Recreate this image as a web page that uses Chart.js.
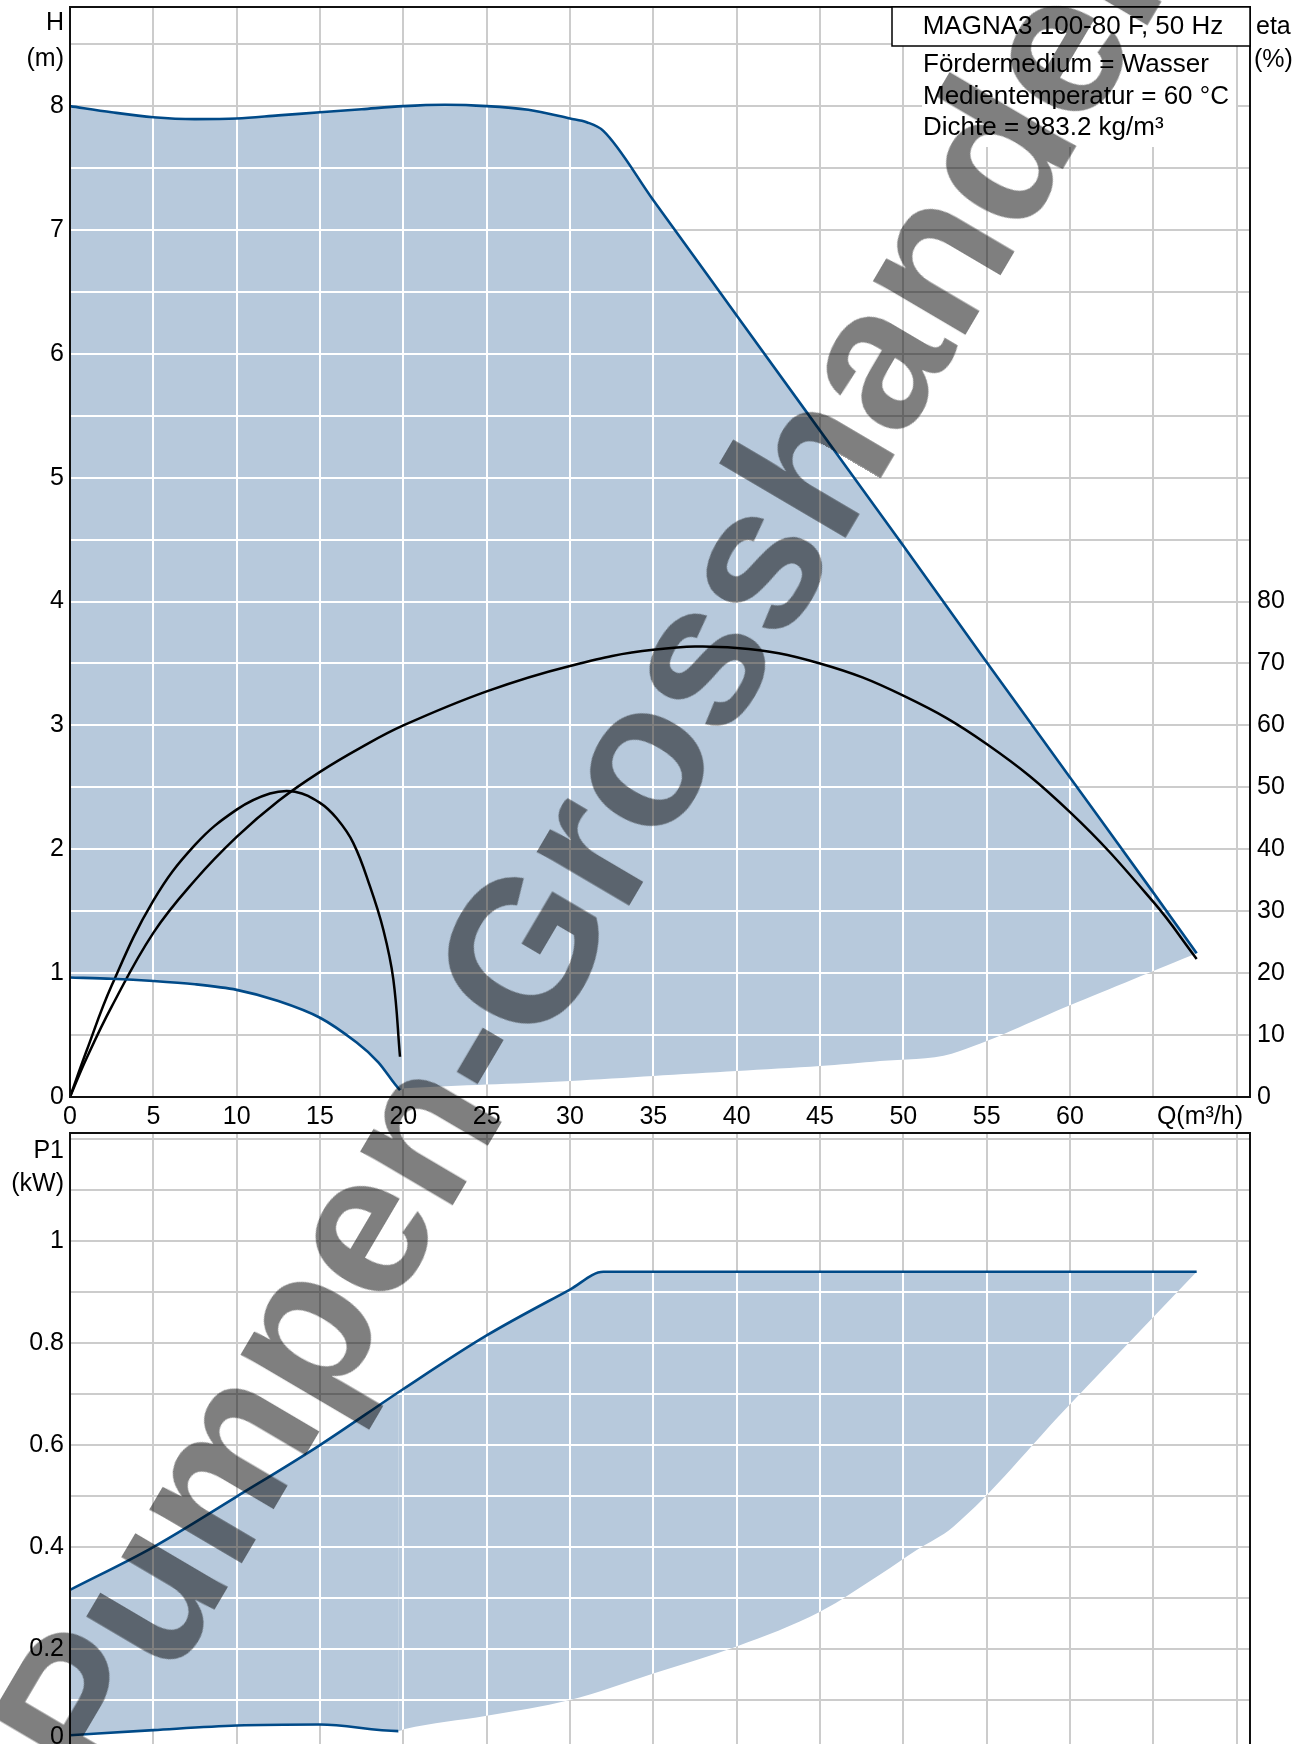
<!DOCTYPE html>
<html>
<head>
<meta charset="utf-8">
<script src="https://cdn.jsdelivr.net/npm/chart.js@4.4.0/dist/chart.umd.min.js"></script>
<style>
    html, body { margin: 0; padding: 0; overflow: hidden; background: #fff; width: 1309px; height: 1744px; }
    #topChart { position: absolute; left: 0; top: 0; }
    #bottomChart { position: absolute; left: 0; top: 1125px; }
    #wm {
        position: absolute; left: 576px; top: 858px;
        transform: translate(-50%, -50%) rotate(-59.5deg);
        font: bold 202px "Liberation Sans", Arial, sans-serif;
        color: rgba(0, 0, 0, 0.5); white-space: nowrap; line-height: 1; pointer-events: none;
    }
</style>
</head>
<body>
<canvas id="topChart" width="1309" height="1133"></canvas>
<canvas id="bottomChart" width="1309" height="640"></canvas>
<div id="wm">Pumpen-Grosshandel</div>
<script>
// H(Q) at max speed
const hMaxQ = [0, 2.5, 5, 7.5, 10, 12.5, 15, 17.5, 20, 22.5, 25, 27.5, 30, 31, 32, 35, 40, 45, 50, 55, 60, 65, 67.6];
const hMaxH = [8.00, 7.95, 7.91, 7.895, 7.90, 7.925, 7.95, 7.975, 8.00, 8.01, 8.00, 7.97, 7.90, 7.87, 7.80, 7.24, 6.31, 5.38, 4.45, 3.51, 2.58, 1.65, 1.16];

// lower edge of the operating area (min curve up to 20, then bottom edge)
const hLowQ = [0, 2.5, 5, 7.5, 10, 12.5, 15, 17.2, 18.5, 19.8, 20.1, 25, 30, 35, 40, 45, 48.6, 52.9, 60, 67.6];
const hLowH = [0.965, 0.955, 0.937, 0.91, 0.865, 0.775, 0.64, 0.44, 0.28, 0.056, 0.07, 0.10, 0.13, 0.17, 0.21, 0.25, 0.29, 0.35, 0.74, 1.16];

// efficiency curves (%)
const etaMaxQ = [0, 1, 2.5, 5, 7.5, 10, 12.5, 15, 17.5, 20, 25, 30, 35, 40, 45, 50, 55, 60, 65, 67.6];
const etaMaxV = [0, 6.3, 14.6, 26.5, 35, 42, 47.8, 52.5, 56.5, 60, 65.5, 69.6, 72.2, 72.5, 70.0, 64.8, 57.0, 46.0, 31.5, 22.3];
const etaMinQ = [0, 1, 2.5, 5, 7.5, 10, 12, 13.5, 15, 16, 17, 18, 18.8, 19.4, 19.8];
const etaMinV = [0, 7.5, 18, 31.7, 40.7, 46.4, 49, 49.3, 47.5, 45, 41, 34, 27, 19, 6.5];

// P1(Q)
const pMaxQ = [0, 5, 10, 15, 20, 25, 30, 32, 40, 50, 60, 67.6];
const pMaxP = [0.316, 0.40, 0.499, 0.60, 0.71, 0.815, 0.905, 0.94, 0.94, 0.94, 0.94, 0.94];
const pLowQ = [0, 5, 10, 15, 19.7, 20.1, 25, 30, 35, 40, 45, 48.7, 50.8, 53, 60, 67.6];
const pLowP = [0.031, 0.041, 0.05, 0.052, 0.039, 0.043, 0.069, 0.10, 0.152, 0.205, 0.273, 0.348, 0.394, 0.44, 0.68, 0.94];

const infoTitle = 'MAGNA3 100-80 F, 50 Hz';
const infoLines = ['Fördermedium = Wasser', 'Medientemperatur = 60 °C', 'Dichte = 983.2 kg/m³'];

const FONT = '"Liberation Sans", Arial, sans-serif';
const lineBlue = '#004a88';
const areaBlue = '#b7c9dc';
const gridGrey = '#cccccc';
const minEnd = 19.7;

function pts(xs, ys) {
    return xs.map((x, i) => ({ x: x, y: ys[i] }));
}

function bez(ctx, prev, cur, flip) {
    if (prev.cp1x === undefined || cur.cp1x === undefined) {
        ctx.lineTo(cur.x, cur.y);
        return;
    }
    ctx.bezierCurveTo(
        flip ? prev.cp1x : prev.cp2x, flip ? prev.cp1y : prev.cp2y,
        flip ? cur.cp2x : cur.cp1x, flip ? cur.cp2y : cur.cp1y,
        cur.x, cur.y);
}

function align(p) {
    return Math.round(p - 1) + 1;
}

// white grid lines inside the filled area, like the original
const whiteGrid = {
    id: 'whiteGrid',
    beforeDatasetsDraw(chart, args, opts) {
        const up = chart.getDatasetMeta(opts.upper).data;
        const lo = chart.getDatasetMeta(opts.lower).data;
        const ctx = chart.ctx;
        const a = chart.chartArea;
        ctx.save();
        ctx.beginPath();
        ctx.moveTo(up[0].x, up[0].y);
        for (let i = 1; i < up.length; i++) bez(ctx, up[i - 1], up[i], false);
        ctx.lineTo(lo[lo.length - 1].x, lo[lo.length - 1].y);
        for (let i = lo.length - 2; i >= 0; i--) bez(ctx, lo[i + 1], lo[i], true);
        ctx.closePath();
        ctx.clip();
        ctx.strokeStyle = '#ffffff';
        ctx.lineWidth = 2;
        ctx.beginPath();
        const xs = chart.scales.x;
        xs.ticks.forEach(t => {
            const x = align(xs.getPixelForValue(t.value));
            ctx.moveTo(x, a.top);
            ctx.lineTo(x, a.bottom);
        });
        const ys = chart.scales.y;
        ys.ticks.forEach(t => {
            const y = align(ys.getPixelForValue(t.value));
            ctx.moveTo(a.left, y);
            ctx.lineTo(a.right, y);
        });
        ctx.stroke();
        ctx.restore();
    }
};

// frame and free text
const frameText = {
    id: 'frameText',
    afterDraw(chart, args, opts) {
        const ctx = chart.ctx;
        const a = chart.chartArea;
        ctx.save();
        ctx.strokeStyle = '#111';
        ctx.lineWidth = 2;
        ctx.strokeRect(a.left, a.top, a.right - a.left, opts.bottomOpen ? 2000 : a.bottom - a.top);
        ctx.fillStyle = '#000';
        ctx.font = '25px ' + FONT;
        ctx.textBaseline = 'middle';
        (opts.labels || []).forEach(l => {
            ctx.textAlign = l.align;
            ctx.fillText(l.text, l.x, l.y);
        });
        if (opts.info) {
            const bx = a.right - 358;
            ctx.fillStyle = '#fff';
            ctx.fillRect(bx + 30, a.top + 39, 314, 101);
            ctx.fillRect(bx, a.top, 358, 39);
            ctx.strokeStyle = '#000';
            ctx.lineWidth = 1.5;
            ctx.strokeRect(bx, a.top, 358, 39);
            ctx.fillStyle = '#000';
            ctx.font = '26px ' + FONT;
            ctx.textAlign = 'center';
            ctx.fillText(infoTitle, bx + 181, a.top + 20);
            ctx.textAlign = 'left';
            infoLines.forEach((t, i) => ctx.fillText(t, bx + 31, a.top + 58 + i * 31.5));
        }
        ctx.restore();
    }
};

const tickFont = { family: FONT, size: 25 };

// fixed axis sizes, no extra label padding
function fit(w, h) {
    return scale => {
        if (w !== null) scale.width = w;
        if (h !== null) scale.height = h;
        scale.paddingTop = 0;
        scale.paddingBottom = 0;
        scale.paddingLeft = 0;
        scale.paddingRight = 0;
    };
}

const topChart = new Chart(document.getElementById('topChart'), {
    type: 'scatter',
    data: {
        datasets: [
            {
                data: pts(hMaxQ, hMaxH), showLine: true, borderColor: lineBlue, borderWidth: 2.6,
                backgroundColor: areaBlue, fill: 1, pointRadius: 0, cubicInterpolationMode: 'monotone', yAxisID: 'y'
            },
            {
                data: pts(hLowQ, hLowH), showLine: true, borderColor: lineBlue, borderWidth: 2.6, fill: false,
                pointRadius: 0, tension: 0.3, yAxisID: 'y',
                segment: { borderColor: c => c.p0.parsed.x >= minEnd ? 'rgba(0,0,0,0)' : undefined }
            },
            {
                data: pts(etaMaxQ, etaMaxV), showLine: true, borderColor: '#000', borderWidth: 2.5, fill: false,
                pointRadius: 0, tension: 0.4, yAxisID: 'eta'
            },
            {
                data: pts(etaMinQ, etaMinV), showLine: true, borderColor: '#000', borderWidth: 2.5, fill: false,
                pointRadius: 0, tension: 0.4, yAxisID: 'eta'
            }
        ]
    },
    options: {
        responsive: false,
        animation: false,
        layout: { padding: { top: 7, left: 0, right: 0, bottom: 0 } },
        plugins: {
            legend: { display: false },
            tooltip: { enabled: false },
            filler: { drawTime: 'beforeDatasetsDraw' },
            whiteGrid: { upper: 0, lower: 1 },
            frameText: {
                info: true,
                labels: [
                    { text: 'H', x: 64, y: 23, align: 'right' },
                    { text: '(m)', x: 64, y: 59, align: 'right' },
                    { text: 'eta', x: 1256, y: 27, align: 'left' },
                    { text: '(%)', x: 1254, y: 60, align: 'left' },
                    { text: 'Q(m³/h)', x: 1243, y: 1117, align: 'right' }
                ]
            }
        },
        scales: {
            x: {
                type: 'linear', min: 0, max: 70.8,
                ticks: { stepSize: 5, includeBounds: false, font: tickFont, color: '#000', padding: 5, maxRotation: 0,
                    autoSkip: false, callback: v => v <= 60 ? String(v) : '' },
                grid: { color: gridGrey, lineWidth: 2, drawTicks: false },
                border: { display: false },
                afterFit: fit(null, 36)
            },
            y: {
                position: 'left', min: 0, max: 8.8,
                ticks: { stepSize: 0.5, includeBounds: false, font: tickFont, color: '#000', padding: 6, autoSkip: false,
                    callback: v => Number.isInteger(v) ? String(v) : '' },
                grid: { color: gridGrey, lineWidth: 2, drawTicks: false },
                border: { display: false },
                afterFit: fit(70, null)
            },
            eta: {
                position: 'right', min: 0, max: 176,
                ticks: { stepSize: 10, includeBounds: false, font: tickFont, color: '#000', padding: 7, autoSkip: false,
                    callback: v => v <= 80 ? String(v) : '' },
                grid: { display: false, drawTicks: false },
                border: { display: false },
                afterFit: fit(59, null)
            }
        }
    },
    plugins: [whiteGrid, frameText]
});

const bottomChart = new Chart(document.getElementById('bottomChart'), {
    type: 'scatter',
    data: {
        datasets: [
            {
                data: pts(pMaxQ, pMaxP), showLine: true, borderColor: lineBlue, borderWidth: 2.6,
                backgroundColor: areaBlue, fill: 1, pointRadius: 0, cubicInterpolationMode: 'monotone'
            },
            {
                data: pts(pLowQ, pLowP), showLine: true, borderColor: lineBlue, borderWidth: 2.6, fill: false,
                pointRadius: 0, cubicInterpolationMode: 'monotone',
                segment: { borderColor: c => c.p0.parsed.x >= minEnd ? 'rgba(0,0,0,0)' : undefined }
            }
        ]
    },
    options: {
        responsive: false,
        animation: false,
        layout: { padding: { top: 8, left: 0, right: 59, bottom: 0 } },
        plugins: {
            legend: { display: false },
            tooltip: { enabled: false },
            filler: { drawTime: 'beforeDatasetsDraw' },
            whiteGrid: { upper: 0, lower: 1 },
            frameText: {
                bottomOpen: true,
                labels: [
                    { text: 'P1', x: 64, y: 26, align: 'right' },
                    { text: '(kW)', x: 64, y: 59, align: 'right' },
                    { text: '0', x: 64, y: 612, align: 'right' }
                ]
            }
        },
        scales: {
            x: {
                type: 'linear', min: 0, max: 70.8,
                ticks: { display: false, stepSize: 5, includeBounds: false },
                grid: { color: gridGrey, lineWidth: 2, drawTicks: false },
                border: { display: false },
                afterFit: fit(null, 14)
            },
            y: {
                position: 'left', min: 0, max: 1.212,
                ticks: { stepSize: 0.1, includeBounds: false, font: tickFont, color: '#000', padding: 6, autoSkip: false,
                    callback: v => {
                        const r = Math.round(v * 10);
                        if (r % 2 !== 0 || r <= 0 || r > 10) return '';
                        return r === 10 ? '1' : (r / 10).toFixed(1);
                    } },
                grid: { color: gridGrey, lineWidth: 2, drawTicks: false },
                border: { display: false },
                afterFit: fit(70, null)
            }
        }
    },
    plugins: [whiteGrid, frameText]
});
</script>
</body>
</html>
